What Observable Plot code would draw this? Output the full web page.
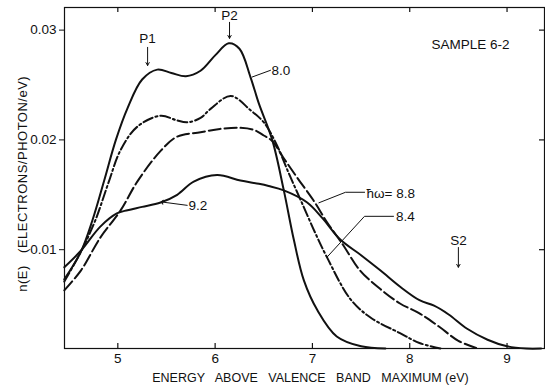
<!DOCTYPE html>
<html>
<head>
<meta charset="utf-8">
<script src="https://cdn.jsdelivr.net/npm/d3@7"></script>
<script src="https://cdn.jsdelivr.net/npm/@observablehq/plot@0.6"></script>
<style>
  html, body { margin: 0; padding: 0; background: #fff; }
  #chart svg { font-family: "Liberation Sans", Arial, sans-serif; }
</style>
</head>
<body>
<div id="chart"></div>
<script>
// Photon energies (eV) of the four curves
const series = ["8.0", "8.4", "8.8", "9.2"];

// Energy above valence band maximum (eV) and n(E) for each curve
const e80 = [4.45, 4.62, 4.74, 4.86, 4.98, 5.1, 5.25, 5.405, 5.55, 5.7, 5.85, 6.0, 6.14, 6.25, 6.364, 6.45, 6.587, 6.706, 6.809, 6.912, 7.05, 7.25, 7.5, 7.75];
const n80 = [0.0073, 0.0098, 0.0127, 0.0163, 0.0200, 0.0229, 0.0255, 0.0264, 0.0261, 0.0258, 0.0263, 0.0277, 0.0288, 0.0283, 0.0257, 0.0233, 0.0200, 0.0154, 0.0109, 0.0072, 0.0045, 0.0021, 0.0012, 0.0010];

const e84 = [4.45, 4.62, 4.77, 4.9, 5.03, 5.2, 5.44, 5.6, 5.71, 5.85, 5.95, 6.16, 6.364, 6.5, 6.62, 6.76, 6.91, 7.03, 7.15, 7.39, 7.6, 7.9, 8.1, 8.32];
const n84 = [0.0071, 0.0098, 0.0127, 0.0160, 0.0191, 0.0212, 0.0222, 0.0218, 0.0216, 0.0220, 0.0228, 0.0240, 0.0227, 0.0216, 0.0198, 0.0169, 0.0139, 0.0115, 0.0093, 0.0055, 0.0038, 0.0024, 0.0015, 0.0010];

const e88 = [4.45, 4.62, 4.82, 5.03, 5.2, 5.44, 5.61, 5.85, 6.05, 6.26, 6.4, 6.5, 6.587, 6.7, 6.84, 7.01, 7.15, 7.31, 7.49, 7.7, 7.9, 8.1, 8.3, 8.5, 8.7];
const n88 = [0.0063, 0.0081, 0.0111, 0.0136, 0.0162, 0.0190, 0.0203, 0.0207, 0.0210, 0.0211, 0.0209, 0.0204, 0.0199, 0.0184, 0.0166, 0.0145, 0.0125, 0.0105, 0.0081, 0.0064, 0.0051, 0.0042, 0.0030, 0.0017, 0.0010];

const e92 = [4.45, 4.62, 4.82, 4.99, 5.1, 5.25, 5.44, 5.61, 5.78, 6.02, 6.26, 6.45, 6.55, 6.706, 6.946, 7.1, 7.289, 7.5, 7.7, 7.905, 8.1, 8.25, 8.4, 8.59, 8.8, 9.0, 9.2, 9.35];
const n92 = [0.0084, 0.0099, 0.0121, 0.0133, 0.0136, 0.0139, 0.0143, 0.0150, 0.0162, 0.0168, 0.0163, 0.0160, 0.0158, 0.0154, 0.0143, 0.0129, 0.0109, 0.0095, 0.0081, 0.0066, 0.0054, 0.0049, 0.0041, 0.0028, 0.0018, 0.0012, 0.0010, 0.0010];

// Axis ticks
const xTicks = [5, 6, 7, 8, 9];
const yTicks = [0.01, 0.02, 0.03];
const yTickLabels = ["0.01", "0.02", "0.03"];

// Annotation texts
const peakLabels = ["P1", "P2", "S2"];
const sampleLabel = "SAMPLE 6-2";
const curveLabels = ["8.0", "8.4", "\u0127\u03c9= 8.8", "9.2"];
const xTitle = "ENERGY\u00a0\u00a0 ABOVE\u00a0\u00a0 VALENCE\u00a0\u00a0 BAND\u00a0\u00a0 MAXIMUM (eV)";
const yTitle = "n(E)\u00a0\u00a0 (ELECTRONS/PHOTON/eV)";

const table = (xs, ys, s) => xs.map((x, i) => ({E: x, n: ys[i], s}));
const curves = [table(e80, n80, series[0]), table(e84, n84, series[1]), table(e88, n88, series[2]), table(e92, n92, series[3])];

const W = 545, H = 390, mL = 64, mR = 1, mT = 7, mB = 42;
const innerH = H - mT - mB, innerW = W - mL - mR;

const lineStyle = {
  "8.0": null,
  "8.4": "10,3,2,3",
  "8.8": "12,4",
  "9.2": null
};

const marks = [
  Plot.frame({stroke: "#111", strokeWidth: 1.2}),
  // inward ticks bottom/top/right
  Plot.tickX(xTicks, {x: d => d, insetTop: innerH - 5, stroke: "#111", strokeWidth: 1.2}),
  Plot.tickX(xTicks, {x: d => d, insetBottom: innerH - 5, stroke: "#111", strokeWidth: 1.2}),
  Plot.tickY(yTicks, {y: d => d, insetLeft: innerW - 5, stroke: "#111", strokeWidth: 1.2}),
  Plot.axisX(xTicks, {tickSize: 0, tickPadding: 5, fontSize: 13.5, label: null}),
  Plot.axisY(yTicks, {tickSize: 5, tickPadding: 3, fontSize: 13.5, tickFormat: (d, i) => yTickLabels[i], label: null}),
  ...curves.map(c => Plot.line(c, {x: "E", y: "n", curve: "catmull-rom", stroke: "#111", strokeWidth: 2, strokeDasharray: lineStyle[c[0].s]})),
  // curve labels with leaders
  Plot.line([{x: 6.381, y: 0.02573}, {x: 6.569, y: 0.02634}], {x: "x", y: "y", stroke: "#111", strokeWidth: 1}),
  Plot.line([{x: 5.713, y: 0.01404}, {x: 5.456, y: 0.01434}], {x: "x", y: "y", stroke: "#111", strokeWidth: 1, markerEnd: "arrow"}),
  Plot.line([{x: 7.536, y: 0.01523}, {x: 7.34, y: 0.01523}, {x: 7.066, y: 0.01427}], {x: "x", y: "y", stroke: "#111", strokeWidth: 1}),
  Plot.line([{x: 7.833, y: 0.01304}, {x: 7.535, y: 0.01304}, {x: 7.152, y: 0.00934}], {x: "x", y: "y", stroke: "#111", strokeWidth: 1}),
  Plot.text([curveLabels[0]], {x: 6.58, y: 0.0263, text: d => d, textAnchor: "start", fontSize: 13.5}),
  Plot.text([curveLabels[1]], {x: 7.86, y: 0.01298, text: d => d, textAnchor: "start", fontSize: 13.5}),
  Plot.text([curveLabels[2]], {x: 7.556, y: 0.01514, text: d => d, textAnchor: "start", fontSize: 13.5}),
  Plot.text([curveLabels[3]], {x: 5.727, y: 0.01404, text: d => d, textAnchor: "start", fontSize: 13.5}),
  // peak markers
  Plot.text([peakLabels[0]], {x: 5.306, y: 0.02925, text: d => d, fontSize: 13.5}),
  Plot.arrow([0], {x1: 5.306, y1: 0.02843, x2: 5.306, y2: 0.02678, headLength: 5, strokeWidth: 1, stroke: "#111"}),
  Plot.text([peakLabels[1]], {x: 6.148, y: 0.03135, text: d => d, fontSize: 13.5}),
  Plot.arrow([0], {x1: 6.148, y1: 0.03071, x2: 6.148, y2: 0.02925, headLength: 5, strokeWidth: 1, stroke: "#111"}),
  Plot.text([peakLabels[2]], {x: 8.50, y: 0.01085, text: d => d, fontSize: 13.5}),
  Plot.arrow([0], {x1: 8.50, y1: 0.0102, x2: 8.50, y2: 0.0084, headLength: 5, strokeWidth: 1, stroke: "#111"}),
  Plot.text([sampleLabel], {x: 8.624, y: 0.0287, text: d => d, fontSize: 13.5}),
  // axis titles
  Plot.text([xTitle], {frameAnchor: "bottom", x: 6.98, dy: 33, text: d => d, fontSize: 12.5}),
  Plot.text([yTitle], {frameAnchor: "left", y: 0.0160, dx: -42, rotate: -90, text: d => d, fontSize: 13, textAnchor: "middle"})
];

const chart = Plot.plot({
  width: W,
  height: H,
  marginLeft: mL,
  marginRight: mR,
  marginTop: mT,
  marginBottom: mB,
  style: {fontFamily: "Liberation Sans, Arial, sans-serif", color: "#111", background: "#fff"},
  x: {domain: [4.452, 9.385]},
  y: {domain: [0.001, 0.03206]},
  marks
});
d3.select(chart).selectAll("text")
  .filter(function () { return this.textContent === yTitle; })
  .attr("letter-spacing", "0.5px");
document.getElementById("chart").appendChild(chart);
</script>
</body>
</html>
